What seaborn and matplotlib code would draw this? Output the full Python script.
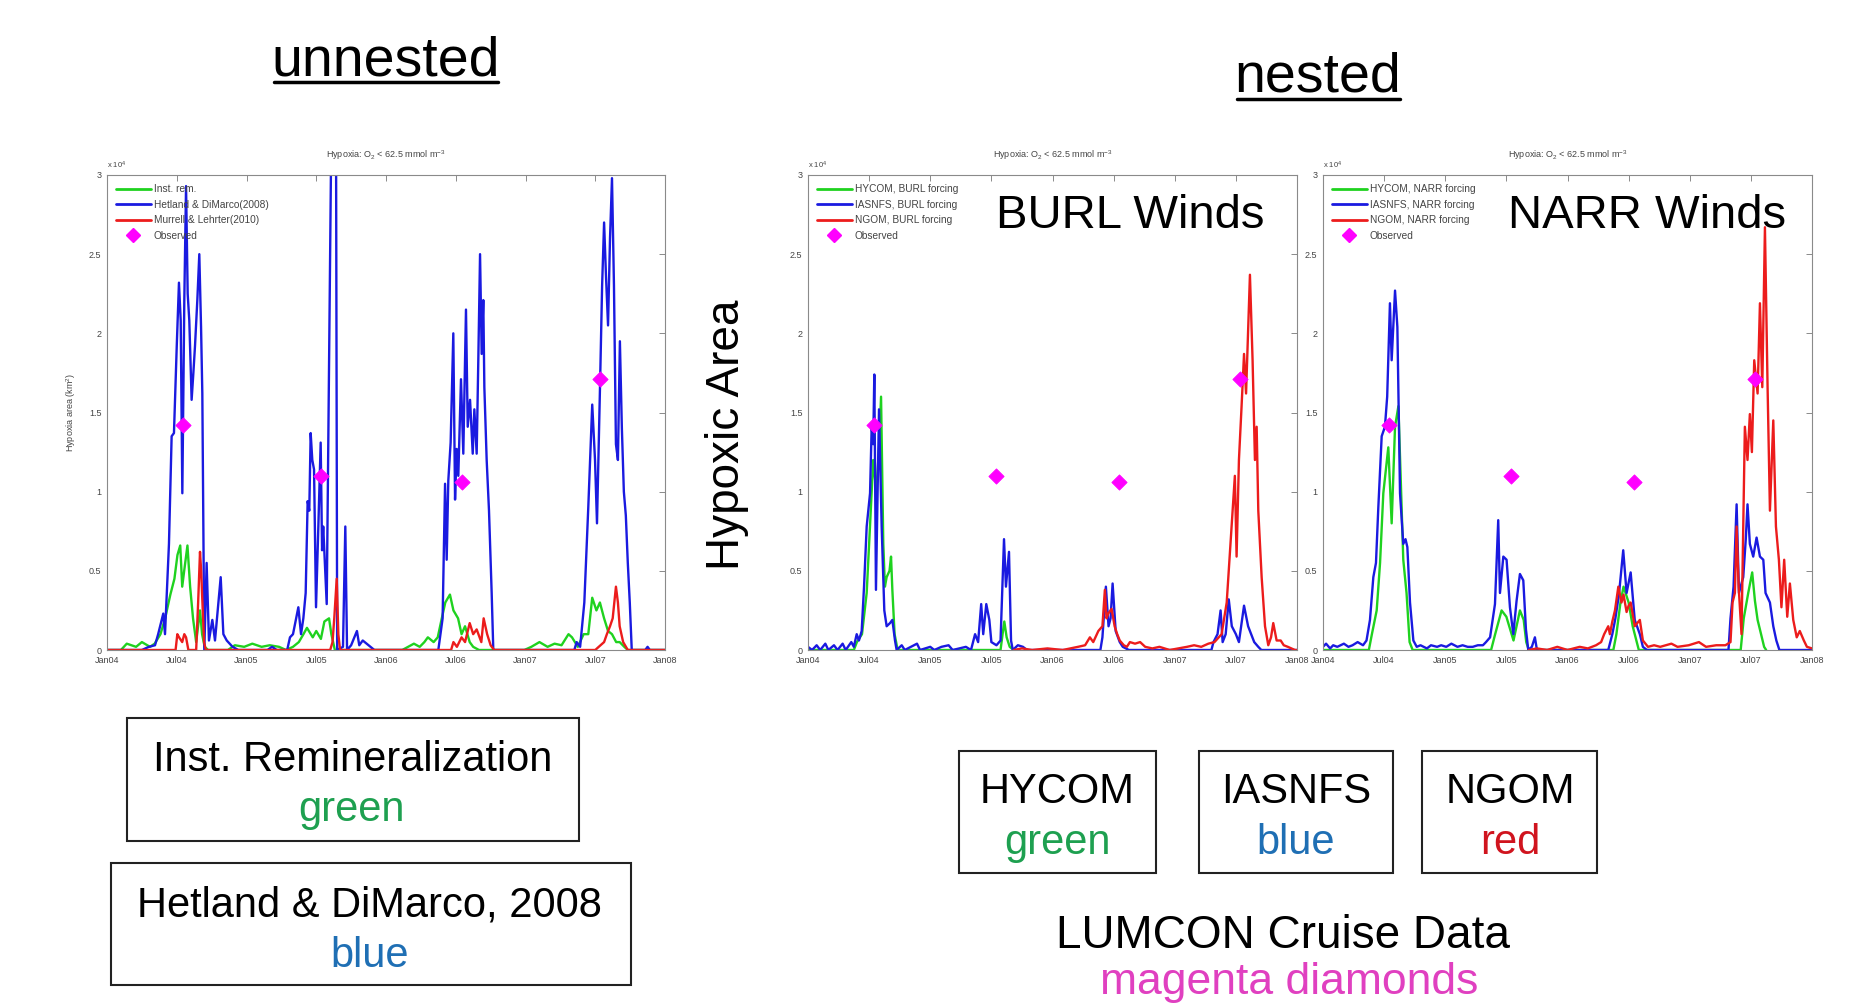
import matplotlib
matplotlib.use("Agg")
import matplotlib.pyplot as plt
from matplotlib.patches import Rectangle
from matplotlib.lines import Line2D
import seaborn as sns
import pandas as pd

# --- data: months since Jan04, hypoxic area in 1e4 km^2 ---
tick_months = [0, 6, 12, 18, 24, 30, 36, 42, 48]
tick_labels = ["Jan04", "Jul04", "Jan05", "Jul05", "Jan06", "Jul06", "Jan07", "Jul07", "Jan08"]
y_ticks = [0, 0.5, 1, 1.5, 2, 2.5, 3]
y_tick_labels = ["0", "0.5", "1", "1.5", "2", "2.5", "3"]

obs_month = [6.5, 18.45, 30.5, 42.45]
obs_area = [1.42, 1.10, 1.06, 1.71]

# unnested run
inst_rem = [(0, 0), (1.2, 0.0), (1.7, 0.04), (2.5, 0.02), (3.0, 0.05), (3.7, 0.02), (4.1, 0.04),
            (4.6, 0.1), (5.0, 0.2), (5.45, 0.35), (5.8, 0.45), (6.06, 0.6), (6.3, 0.66), (6.47, 0.4),
            (6.64, 0.5), (6.92, 0.66), (7.15, 0.4), (7.4, 0.2), (7.67, 0.05), (8.0, 0.25), (8.18, 0.1),
            (8.4, 0.02), (8.7, 0.0), (10.4, 0.0), (11.0, 0.03), (11.8, 0.02), (12.5, 0.04), (13.3, 0.02),
            (14.0, 0.03), (14.8, 0.02), (15.4, 0.0), (16.0, 0.02), (16.5, 0.05), (16.9, 0.1), (17.2, 0.14),
            (17.7, 0.08), (18.0, 0.12), (18.4, 0.07), (18.7, 0.18), (19.1, 0.2), (19.3, 0.1), (19.6, 0.0),
            (25.4, 0.0), (25.9, 0.02), (26.4, 0.04), (26.9, 0.02), (27.3, 0.05), (27.6, 0.08), (28.1, 0.05),
            (28.45, 0.08), (28.8, 0.2), (29.1, 0.3), (29.5, 0.35), (29.8, 0.25), (30.2, 0.2), (30.5, 0.1),
            (30.8, 0.15), (31.2, 0.05), (31.5, 0.02), (32.0, 0.0), (35.9, 0.0), (36.5, 0.02), (37.2, 0.05),
            (37.9, 0.02), (38.5, 0.04), (39.1, 0.03), (39.7, 0.1), (40.0, 0.08), (40.5, 0.02), (41.0, 0.1),
            (41.4, 0.1), (41.74, 0.33), (42.1, 0.25), (42.4, 0.3), (42.76, 0.2), (43.1, 0.12), (43.44, 0.1),
            (43.8, 0.05), (44.1, 0.05), (44.5, 0.02), (44.8, 0.0), (48, 0.0)]

hetland = [(0, 0), (3.0, 0.0), (3.6, 0.02), (4.13, 0.03), (4.4, 0.1), (4.84, 0.23), (4.99, 0.1), (5.33, 0.67),
           (5.56, 1.35), (5.76, 1.37), (6.0, 1.92), (6.19, 2.32), (6.34, 2.08), (6.48, 0.99), (6.65, 2.21),
           (6.8, 2.93), (6.94, 2.25), (7.08, 2.08), (7.28, 1.58), (7.43, 1.75), (7.57, 1.92), (7.77, 2.21),
           (7.94, 2.5), (8.09, 2.04), (8.2, 1.62), (8.37, 0.0), (8.57, 0.55), (8.77, 0.06), (9.06, 0.19),
           (9.29, 0.06), (9.78, 0.46), (10.01, 0.1), (10.3, 0.06), (10.8, 0.02), (11.3, 0.0), (13.8, 0.0),
           (14.2, 0.02), (14.6, 0.0), (15.5, 0.0), (15.74, 0.08), (16.0, 0.1), (16.46, 0.27), (16.69, 0.1),
           (16.89, 0.2), (17.09, 0.36), (17.26, 0.94), (17.4, 0.88), (17.52, 1.37), (17.66, 1.2), (17.81, 1.14),
           (17.98, 0.27), (18.18, 0.78), (18.38, 1.31), (18.5, 0.63), (18.6, 0.78), (18.9, 0.29), (19.3, 3.3),
           (19.7, 3.3), (19.8, 0.0), (20.3, 0.02), (20.5, 0.78), (20.65, 0.0), (21.0, 0.03), (21.5, 0.12),
           (21.7, 0.03), (22.0, 0.06), (22.5, 0.03), (23.0, 0.0), (28.5, 0.0), (28.87, 0.2), (29.08, 1.05),
           (29.22, 0.57), (29.36, 1.07), (29.56, 1.31), (29.79, 2.0), (29.94, 0.95), (30.08, 1.27), (30.22, 1.1),
           (30.45, 1.71), (30.65, 1.24), (30.88, 2.15), (31.03, 1.41), (31.23, 1.58), (31.46, 1.24), (31.6, 1.52),
           (31.8, 1.24), (31.94, 1.83), (32.09, 2.5), (32.23, 1.87), (32.37, 2.21), (32.46, 1.66), (32.66, 1.2),
           (32.86, 0.88), (33.09, 0.36), (33.23, 0.0), (40.2, 0.0), (40.4, 0.05), (40.7, 0.02), (41.06, 0.3),
           (41.4, 0.9), (41.74, 1.55), (41.98, 1.2), (42.15, 0.8), (42.42, 1.7), (42.59, 2.3), (42.76, 2.7),
           (42.93, 2.35), (43.1, 2.05), (43.27, 2.6), (43.44, 2.98), (43.61, 2.3), (43.78, 1.3), (43.95, 1.2),
           (44.12, 1.95), (44.29, 1.4), (44.46, 1.0), (44.63, 0.85), (44.8, 0.55), (44.97, 0.3), (45.14, 0.0),
           (46.3, 0.0), (46.5, 0.02), (46.7, 0.0), (48, 0.0)]

murrell = [(0, 0), (5.9, 0.0), (6.05, 0.1), (6.2, 0.08), (6.47, 0.05), (6.65, 0.1), (6.8, 0.08), (7.0, 0.0),
           (7.67, 0.0), (7.84, 0.3), (8.0, 0.62), (8.1, 0.5), (8.18, 0.35), (8.35, 0.05), (8.5, 0.0), (19.2, 0.0),
           (19.4, 0.05), (19.55, 0.2), (19.76, 0.45), (19.9, 0.1), (20.05, 0.0), (29.6, 0.0), (29.8, 0.05),
           (30.1, 0.02), (30.5, 0.08), (30.8, 0.05), (31.2, 0.17), (31.5, 0.1), (31.8, 0.13), (32.2, 0.05),
           (32.4, 0.2), (32.7, 0.1), (33.0, 0.03), (33.3, 0.0), (42.0, 0.0), (42.3, 0.02), (42.76, 0.05),
           (43.0, 0.1), (43.27, 0.15), (43.5, 0.2), (43.78, 0.4), (43.95, 0.3), (44.1, 0.15), (44.4, 0.05),
           (44.8, 0.0), (48, 0.0)]

# nested runs, BURL winds
burl_hycom = [(0, 0.0), (4.5, 0.0), (4.8, 0.05), (5.3, 0.1), (5.76, 0.36), (6.1, 0.8), (6.4, 1.2), (6.7, 1.0),
              (7.0, 1.3), (7.17, 1.6), (7.39, 0.67), (7.55, 0.4), (7.72, 0.46), (8.0, 0.5), (8.15, 0.59),
              (8.28, 0.38), (8.5, 0.1), (8.8, 0.0), (18.9, 0.0), (19.1, 0.1), (19.27, 0.18), (19.5, 0.08),
              (19.8, 0.02), (20.2, 0.0)]

burl_iasnfs = [(0, 0.02), (0.4, 0.0), (0.85, 0.03), (1.2, 0.0), (1.7, 0.04), (2.0, 0.0), (2.55, 0.03), (2.9, 0.0),
               (3.4, 0.04), (3.7, 0.0), (4.25, 0.05), (4.5, 0.02), (4.78, 0.1), (5.0, 0.06), (5.27, 0.12),
               (5.5, 0.4), (5.76, 0.78), (6.09, 0.99), (6.25, 1.41), (6.4, 1.3), (6.51, 1.74), (6.67, 0.38),
               (6.97, 1.52), (7.23, 0.78), (7.49, 0.25), (7.72, 0.15), (8.05, 0.17), (8.28, 0.19), (8.54, 0.06),
               (8.7, 0.0), (9.2, 0.03), (9.5, 0.0), (10.7, 0.04), (11.0, 0.0), (12.0, 0.02), (12.4, 0.0),
               (13.1, 0.02), (13.8, 0.03), (14.2, 0.0), (15.5, 0.02), (16.0, 0.0), (16.4, 0.1), (16.7, 0.05),
               (17.0, 0.29), (17.2, 0.1), (17.5, 0.29), (17.8, 0.19), (18.0, 0.05), (18.5, 0.03), (18.9, 0.06),
               (19.24, 0.7), (19.43, 0.4), (19.73, 0.62), (19.93, 0.06), (20.1, 0.0), (20.6, 0.03), (21.1, 0.02),
               (21.5, 0.0), (28.7, 0.0), (28.9, 0.08), (29.24, 0.4), (29.5, 0.15), (29.7, 0.2), (29.9, 0.42),
               (30.2, 0.12), (30.6, 0.05), (30.9, 0.02), (31.5, 0.0), (39.6, 0.0), (39.8, 0.05), (40.2, 0.1),
               (40.5, 0.25), (40.7, 0.05), (41.0, 0.1), (41.3, 0.32), (41.6, 0.15), (42.0, 0.1), (42.3, 0.05),
               (42.8, 0.28), (43.2, 0.15), (43.5, 0.1), (43.8, 0.05), (44.2, 0.02), (44.5, 0.0), (48, 0.0)]

burl_ngom = [(20.2, 0.0), (21.0, 0.01), (22.0, 0.0), (23.5, 0.01), (25.0, 0.0), (26.5, 0.02), (27.2, 0.03),
             (27.67, 0.08), (28.0, 0.05), (28.5, 0.12), (28.9, 0.15), (29.14, 0.38), (29.3, 0.2), (29.47, 0.23),
             (29.8, 0.26), (30.1, 0.15), (30.35, 0.1), (30.6, 0.06), (31.0, 0.03), (31.3, 0.02), (31.6, 0.05),
             (32.1, 0.04), (32.6, 0.05), (33.1, 0.02), (33.8, 0.01), (34.5, 0.02), (35.5, 0.0), (37.2, 0.02),
             (37.9, 0.03), (38.6, 0.02), (39.3, 0.04), (39.9, 0.05), (40.6, 0.1), (41.1, 0.3), (41.58, 0.78),
             (41.9, 1.1), (42.07, 0.59), (42.3, 1.2), (42.56, 1.54), (42.8, 1.87), (43.0, 1.62), (43.38, 2.37),
             (43.64, 1.83), (43.87, 1.2), (44.04, 1.41), (44.2, 0.88), (44.53, 0.46), (44.86, 0.15), (45.18, 0.03),
             (45.45, 0.08), (45.67, 0.17), (46.0, 0.06), (46.4, 0.06), (46.7, 0.03), (47.1, 0.02), (47.8, 0.0),
             (48, 0.0)]

# nested runs, NARR winds
narr_hycom = [(0, 0.0), (4.5, 0.0), (4.8, 0.1), (5.27, 0.25), (5.6, 0.55), (5.92, 0.99), (6.41, 1.28), (6.74, 0.8),
              (7.07, 1.41), (7.4, 1.54), (7.62, 1.1), (7.88, 0.57), (8.2, 0.36), (8.5, 0.05), (8.8, 0.0),
              (16.5, 0.0), (16.9, 0.1), (17.53, 0.25), (18.0, 0.21), (18.7, 0.06), (19.33, 0.25), (19.7, 0.19),
              (19.95, 0.05), (20.2, 0.0), (28.5, 0.0), (28.8, 0.1), (29.2, 0.3), (29.5, 0.4), (30.0, 0.3),
              (30.4, 0.15), (30.8, 0.05), (31.0, 0.0), (41.0, 0.0), (41.3, 0.2), (41.74, 0.36), (42.13, 0.49),
              (42.4, 0.31), (42.66, 0.19), (43.0, 0.1), (43.3, 0.02), (43.5, 0.0)]

narr_iasnfs = [(0, 0.02), (0.3, 0.04), (0.7, 0.01), (1.0, 0.03), (1.4, 0.02), (2.05, 0.04), (2.5, 0.02), (2.9, 0.03),
               (3.4, 0.05), (3.93, 0.03), (4.27, 0.06), (4.61, 0.19), (4.94, 0.46), (5.2, 0.55), (5.43, 0.9),
               (5.76, 1.35), (6.08, 1.41), (6.3, 1.6), (6.57, 2.19), (6.74, 1.83), (7.07, 2.27), (7.3, 2.04),
               (7.56, 0.99), (7.88, 0.67), (8.1, 0.7), (8.28, 0.65), (8.54, 0.3), (8.87, 0.06), (9.2, 0.02),
               (9.57, 0.03), (10.2, 0.01), (10.6, 0.03), (11.2, 0.02), (11.6, 0.03), (12.1, 0.02), (12.6, 0.04),
               (13.2, 0.02), (13.7, 0.03), (14.2, 0.02), (14.7, 0.02), (15.2, 0.03), (15.7, 0.03), (16.0, 0.05),
               (16.4, 0.08), (16.88, 0.29), (17.2, 0.82), (17.37, 0.36), (17.7, 0.59), (18.02, 0.57), (18.35, 0.27),
               (18.68, 0.1), (19.0, 0.31), (19.33, 0.48), (19.66, 0.44), (19.92, 0.13), (20.15, 0.0), (20.5, 0.02),
               (20.8, 0.08), (21.0, 0.0), (28.0, 0.0), (28.4, 0.1), (28.7, 0.2), (29.05, 0.35), (29.47, 0.63),
               (29.8, 0.36), (30.2, 0.49), (30.6, 0.19), (31.1, 0.1), (31.4, 0.02), (31.8, 0.0), (39.8, 0.0),
               (40.0, 0.2), (40.3, 0.4), (40.6, 0.92), (40.83, 0.36), (41.25, 0.46), (41.5, 0.7), (41.67, 0.92),
               (41.9, 0.67), (42.23, 0.59), (42.56, 0.71), (42.89, 0.59), (43.22, 0.57), (43.44, 0.36), (43.87, 0.3),
               (44.2, 0.15), (44.5, 0.06), (44.8, 0.0), (48, 0.0)]

narr_ngom = [(20.2, 0.0), (21.0, 0.01), (22.0, 0.0), (23.0, 0.02), (24.0, 0.0), (25.2, 0.02), (26.0, 0.01),
             (26.8, 0.03), (27.3, 0.05), (27.6, 0.1), (28.0, 0.15), (28.16, 0.1), (28.4, 0.18), (28.66, 0.25),
             (28.99, 0.4), (29.3, 0.3), (29.5, 0.35), (29.8, 0.24), (30.0, 0.28), (30.2, 0.3), (30.6, 0.15),
             (31.1, 0.19), (31.4, 0.06), (31.9, 0.02), (32.5, 0.03), (33.1, 0.02), (34.2, 0.04), (34.8, 0.02),
             (35.9, 0.03), (36.9, 0.05), (37.6, 0.02), (38.6, 0.03), (39.5, 0.03), (40.0, 0.05), (40.2, 0.3),
             (40.43, 0.36), (40.6, 0.78), (40.8, 0.4), (41.08, 0.1), (41.41, 1.41), (41.67, 1.2), (41.9, 1.49),
             (42.1, 1.25), (42.33, 1.83), (42.66, 1.62), (42.89, 2.19), (43.12, 1.66), (43.38, 2.67), (43.64, 1.66),
             (43.87, 0.88), (44.2, 1.45), (44.46, 0.78), (44.75, 0.57), (45.0, 0.27), (45.27, 0.57), (45.57, 0.21),
             (45.83, 0.42), (46.16, 0.19), (46.5, 0.08), (46.8, 0.12), (47.2, 0.06), (47.5, 0.02), (48, 0.01)]

GREEN, BLUE, RED, MAGENTA = "#1fd21f", "#1a1ae0", "#ec1c1c", "#ff00ff"

sns.set_style("white")
plt.rcParams['font.family'] = ['Liberation Sans', 'DejaVu Sans']
plt.rcParams['mathtext.default'] = 'regular'
plt.rcParams['text.color'] = 'black'

W, H = 1854, 1007
fig = plt.figure(figsize=(W / 100, H / 100), dpi=100)


def px_axes(x0, x1, y0, y1):
    return fig.add_axes([x0 / W, 1 - y1 / H, (x1 - x0) / W, (y1 - y0) / H])


def draw_panel(ax, series, labels):
    colors = [GREEN, BLUE, RED]
    for pts, col in zip(series, colors):
        df = pd.DataFrame(pts, columns=["month", "area"])
        sns.lineplot(data=df, x="month", y="area", color=col, lw=1.7, errorbar=None, ax=ax)
    sns.scatterplot(x=obs_month, y=obs_area, marker="D", s=60, color=MAGENTA,
                    edgecolor=MAGENTA, zorder=5, ax=ax)
    ax.set_xlim(0, 48)
    ax.set_ylim(0, 3)
    ax.set_xticks(tick_months)
    ax.set_xticklabels(tick_labels)
    ax.set_yticks(y_ticks)
    ax.set_yticklabels(y_tick_labels)
    ax.set_xlabel("")
    ax.set_ylabel("")
    ax.tick_params(direction="in", top=True, right=True, length=4, width=0.6,
                   labelsize=6.5, color="#777777", labelcolor="#444444", pad=4)
    for sp in ax.spines.values():
        sp.set_color("#8a8a8a")
        sp.set_linewidth(0.8)
    ax.set_title("Hypoxia: O$_2$ < 62.5 mmol m$^{-3}$", fontsize=6.5, color="#444444", pad=12)
    ax.text(0.0, 1.008, r"x 10$^4$", transform=ax.transAxes, fontsize=5.5,
            color="#444444", va="bottom", ha="left")
    handles = [Line2D([], [], color=c, lw=2) for c in colors]
    handles.append(Line2D([], [], marker="D", ls="", color=MAGENTA, markersize=7))
    ax.legend(handles, labels, loc="upper left", frameon=False, fontsize=7.3,
              handlelength=3.4, labelspacing=0.55, borderaxespad=0.5,
              handletextpad=0.3, labelcolor="#444444")


axL = px_axes(107, 665, 175, 650)
draw_panel(axL, [inst_rem, hetland, murrell],
           ["Inst. rem.", "Hetland & DiMarco(2008)", "Murrell & Lehrter(2010)", "Observed"])
axL.set_ylabel("Hypoxia area (km$^2$)", fontsize=6.5, color="#444444", labelpad=8)

axM = px_axes(808, 1297, 175, 650)
draw_panel(axM, [burl_hycom, burl_iasnfs, burl_ngom],
           ["HYCOM, BURL forcing", "IASNFS, BURL forcing", "NGOM, BURL forcing", "Observed"])

axR = px_axes(1323, 1812, 175, 650)
draw_panel(axR, [narr_hycom, narr_iasnfs, narr_ngom],
           ["HYCOM, NARR forcing", "IASNFS, NARR forcing", "NGOM, NARR forcing", "Observed"])

# --- slide annotations ---
def ftext(x, y, s, **kw):
    fig.text(x / W, 1 - y / H, s, **kw)


def box(x0, x1, y0, y1):
    fig.add_artist(Rectangle((x0 / W, 1 - y1 / H), (x1 - x0) / W, (y1 - y0) / H,
                             transform=fig.transFigure, fill=False, ec="#222222", lw=1.5))


ftext(386, 75, "unnested", fontsize=40, ha="center", va="baseline")
fig.add_artist(Line2D([274 / W, 498 / W], [1 - 82 / H] * 2, transform=fig.transFigure, color="k", lw=2.5))
ftext(1318, 91, "nested", fontsize=40, ha="center", va="baseline")
fig.add_artist(Line2D([1237 / W, 1400 / W], [1 - 99 / H] * 2, transform=fig.transFigure, color="k", lw=2.5))

ftext(727, 435, "Hypoxic Area", fontsize=33, rotation=90, ha="center", va="center")
ftext(996, 228, "BURL Winds", fontsize=34, ha="left", va="baseline")
ftext(1508, 228, "NARR Winds", fontsize=34, ha="left", va="baseline")

box(127, 579, 718, 841)
ftext(353, 771, "Inst. Remineralization", fontsize=30, ha="center", va="baseline")
ftext(352, 821, "green", fontsize=30, ha="center", va="baseline", color="#1ea050")
box(111, 631, 863, 985)
ftext(369, 916, "Hetland & DiMarco, 2008", fontsize=30, ha="center", va="baseline")
ftext(370, 967, "blue", fontsize=30, ha="center", va="baseline", color="#1f6fb4")

box(959, 1156, 751, 873)
ftext(1057, 803, "HYCOM", fontsize=30, ha="center", va="baseline")
ftext(1057, 854, "green", fontsize=30, ha="center", va="baseline", color="#1ea050")
box(1199, 1393, 751, 873)
ftext(1296, 803, "IASNFS", fontsize=30, ha="center", va="baseline")
ftext(1296, 854, "blue", fontsize=30, ha="center", va="baseline", color="#1f6fb4")
box(1422, 1597, 751, 873)
ftext(1510, 803, "NGOM", fontsize=30, ha="center", va="baseline")
ftext(1510, 854, "red", fontsize=30, ha="center", va="baseline", color="#d0141e")

ftext(1283, 948, "LUMCON Cruise Data", fontsize=33, ha="center", va="baseline")
ftext(1289, 994, "magenta diamonds", fontsize=32, ha="center", va="baseline", color="#e040c0")

fig.savefig("out.png", dpi=100, facecolor="white")
